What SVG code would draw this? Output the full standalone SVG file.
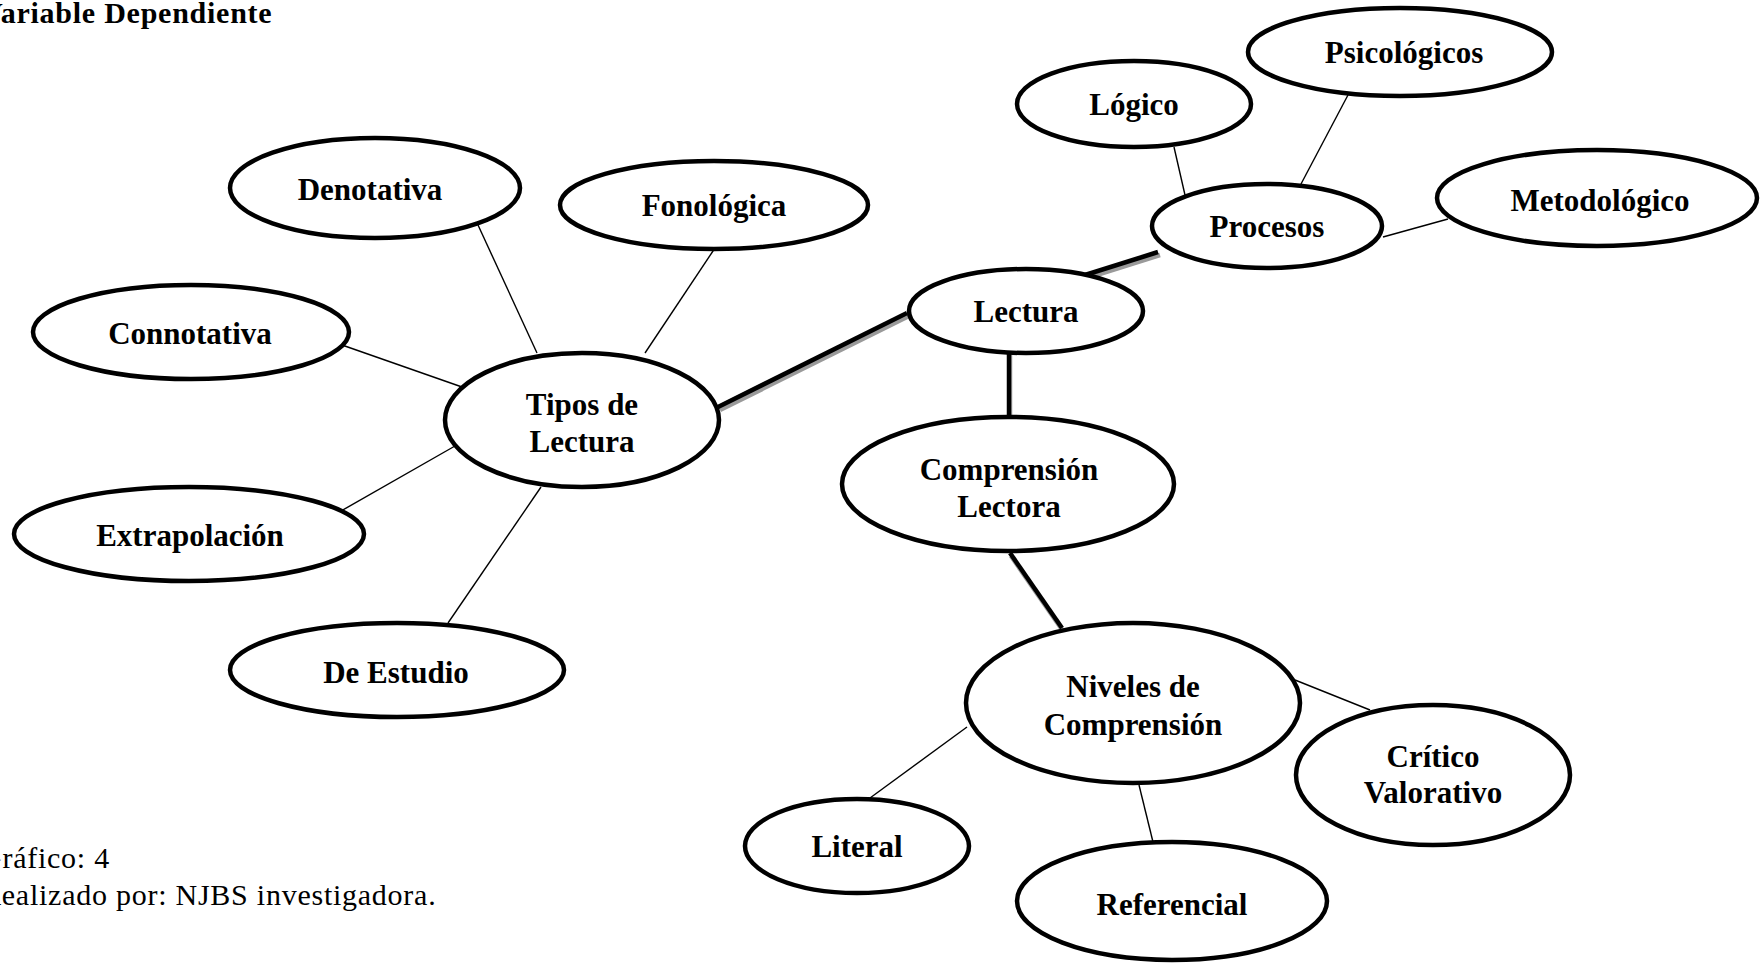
<svg xmlns="http://www.w3.org/2000/svg" width="1761" height="963" viewBox="0 0 1761 963">
<style>
.n ellipse{fill:#fff;stroke:#000;stroke-width:4.5}
.n text{font-family:"Liberation Serif","Times New Roman",serif;font-weight:bold;font-size:31px;text-anchor:middle;fill:#000}
.thin line{stroke:#000;stroke-width:1.4}
.thick line{stroke:#000;stroke-width:4.5}
.thick line.sh{stroke:#9a9a9a;stroke-width:4.5}
.cap{font-family:"Liberation Serif","Times New Roman",serif;font-size:30px;fill:#000;letter-spacing:0.75px}
</style>
<rect width="1761" height="963" fill="#fff"/>
<text class="cap" x="-19" y="23" font-weight="bold" font-size="31" letter-spacing="0.9">Variable Dependiente</text>
<g id="connectors">
 <g class="thin">
  <line x1="478" y1="225" x2="537" y2="353"/>
  <line x1="715" y1="248" x2="645" y2="353"/>
  <line x1="342" y1="345" x2="462" y2="387"/>
  <line x1="334" y1="515" x2="462" y2="442"/>
  <line x1="448" y1="623" x2="541" y2="487"/>
  <line x1="1174" y1="147" x2="1185" y2="195"/>
  <line x1="1348" y1="95" x2="1301" y2="184"/>
  <line x1="1383" y1="237" x2="1448" y2="219"/>
  <line x1="870" y1="798" x2="967" y2="727"/>
  <line x1="1139" y1="785" x2="1153" y2="842"/>
  <line x1="1295" y1="680" x2="1370" y2="710"/>
 </g>
 <g class="thick">
  <line class="sh" x1="720" y1="410" x2="909" y2="316"/>
  <line x1="718" y1="407" x2="907" y2="313"/>
  <line class="sh" x1="1087" y1="278" x2="1160" y2="255"/>
  <line x1="1085" y1="275" x2="1158" y2="252"/>
  <line class="sh" x1="1010" y1="355" x2="1010" y2="428"/>
  <line x1="1009" y1="352" x2="1009" y2="425"/>
  <line class="sh" x1="1011" y1="556" x2="1063" y2="631"/>
  <line x1="1010" y1="553" x2="1062" y2="628"/>
 </g>
</g>
<g id="n-denotativa" class="n"><ellipse cx="375" cy="188" rx="145" ry="50"/><text x="370" y="200">Denotativa</text></g>
<g id="n-fonologica" class="n"><ellipse cx="714" cy="205" rx="154" ry="44"/><text x="714" y="216">Fonológica</text></g>
<g id="n-connotativa" class="n"><ellipse cx="191" cy="332" rx="158" ry="47"/><text x="190" y="344">Connotativa</text></g>
<g id="n-tipos" class="n"><ellipse cx="582" cy="420" rx="137" ry="67"/><text x="582" y="415">Tipos de</text><text x="582" y="452">Lectura</text></g>
<g id="n-extrapolacion" class="n"><ellipse cx="189" cy="534" rx="175" ry="47"/><text x="190" y="546">Extrapolación</text></g>
<g id="n-estudio" class="n"><ellipse cx="397" cy="670" rx="167" ry="47"/><text x="396" y="683">De Estudio</text></g>
<g id="n-lectura" class="n"><ellipse cx="1026" cy="311" rx="117" ry="42"/><text x="1026" y="322">Lectura</text></g>
<g id="n-procesos" class="n"><ellipse cx="1267" cy="226" rx="115" ry="42"/><text x="1267" y="237">Procesos</text></g>
<g id="n-logico" class="n"><ellipse cx="1134" cy="104" rx="117" ry="43"/><text x="1134" y="115">Lógico</text></g>
<g id="n-psicologicos" class="n"><ellipse cx="1400" cy="52" rx="152" ry="44"/><text x="1404" y="63">Psicológicos</text></g>
<g id="n-metodologico" class="n"><ellipse cx="1597" cy="198" rx="160" ry="48"/><text x="1600" y="211">Metodológico</text></g>
<g id="n-comprension" class="n"><ellipse cx="1008" cy="484" rx="166" ry="67"/><text x="1009" y="480">Comprensión</text><text x="1009" y="517">Lectora</text></g>
<g id="n-niveles" class="n"><ellipse cx="1133" cy="703" rx="167" ry="80"/><text x="1133" y="697">Niveles de</text><text x="1133" y="735">Comprensión</text></g>
<g id="n-critico" class="n"><ellipse cx="1433" cy="775" rx="137" ry="70"/><text x="1433" y="767">Crítico</text><text x="1433" y="803">Valorativo</text></g>
<g id="n-literal" class="n"><ellipse cx="857" cy="846" rx="112" ry="47"/><text x="857" y="857">Literal</text></g>
<g id="n-referencial" class="n"><ellipse cx="1172" cy="901" rx="155" ry="59"/><text x="1172" y="915">Referencial</text></g>
<text class="cap" x="-20" y="868">Gráfico: 4</text>
<text class="cap" x="-19" y="905">Realizado por: NJBS investigadora.</text>
</svg>
